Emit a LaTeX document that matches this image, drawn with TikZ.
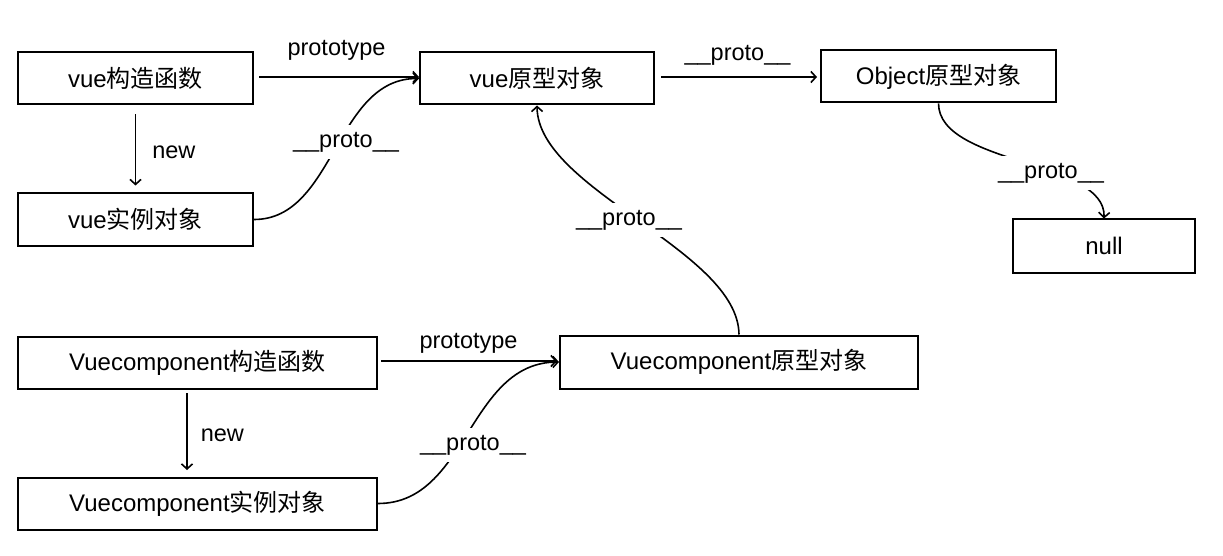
\documentclass[tikz,border=0pt]{standalone}
\usepackage{fontspec}
\setmainfont{Liberation Sans}
\newfontfamily\cjk{Noto Sans CJK SC}
\usetikzlibrary{arrows.meta}
\tikzset{
  box/.style={draw, line width=2pt, minimum height=52pt, inner sep=0pt, font=\fontsize{24}{27}\selectfont},
  arr/.style={line width=1.6pt, -{Straight Barb[length=5pt,width=11pt,line width=1.6pt]}},
  lbl/.style={fill=white, inner xsep=4pt, inner ysep=7pt, font=\fontsize{23.5}{26}\selectfont},
  tlbl/.style={inner sep=2pt, font=\fontsize{23.5}{26}\selectfont},
}
\begin{document}
\begin{tikzpicture}[x=1pt,y=-1pt]
\useasboundingbox (0,0) rectangle (1223,556);
% boxes
\node[box, minimum width=235pt] (vc) at (135.5,78.5) {vue{\cjk 构造函数}};
\node[box, minimum width=235pt] (vi) at (135.5,219.5) {vue{\cjk 实例对象}};
\node[box, minimum width=234pt] (vp) at (537,78.5) {vue{\cjk 原型对象}};
\node[box, minimum width=235pt] (op) at (938.5,76.5) {Object{\cjk 原型对象}};
\node[box, minimum width=182pt, minimum height=53pt] (nl) at (1104,246) {null};
\node[box, minimum width=359pt] (cc) at (197.5,362.5) {Vuecomponent{\cjk 构造函数}};
\node[box, minimum width=359pt] (ci) at (197.5,503.5) {Vuecomponent{\cjk 实例对象}};
\node[box, minimum width=358pt, minimum height=53pt] (cp) at (739,362) {Vuecomponent{\cjk 原型对象}};
% helper coordinates for the vertical "new" arrows
\coordinate (c1) at (187,388);
\coordinate (c2) at (187,477);
% straight arrows
\draw[arr, shorten <=5pt] (vc.east |- 0,77) coordinate (a0) -- node[tlbl, above=14pt] {prototype} (a0 -| vp.west);
\draw[arr, shorten <=9pt, shorten >=7pt] (vc.south) -- node[tlbl, right=14pt, yshift=-3pt] {new} (vi.north);
\draw[arr, shorten <=6pt, shorten >=3pt] (vp.east |- 0,77) coordinate (a1) -- node[tlbl, above=9pt] {\_\_proto\_\_} (a1 -| op.west);
\draw[arr, shorten <=3pt, shorten >=2pt] (cc.east |- 0,361) coordinate (a2) -- node[tlbl, above=5pt] {prototype} (a2 -| cp.west);
\draw[arr, shorten <=5pt, shorten >=7pt] (c1) -- node[tlbl, right=11pt, yshift=-3pt] {new} (c2);
% curved arrows
\draw[arr] (vi.east) .. controls (335,219.5) and (335,78) .. (vp.west);
\node[lbl] (l1) at (346,142) {\_\_proto\_\_};
\draw[arr] (op.south) .. controls (939,165) and (1106,160) .. (nl.north);
\node[lbl] (l2) at (1051,173) {\_\_proto\_\_};
\draw[arr] (cp.north) .. controls (738,250) and (538,190) .. (vp.south);
\node[lbl] (l3) at (629,220) {\_\_proto\_\_};
\draw[arr] (ci.east) .. controls (468,503.5) and (468,362) .. (cp.west);
\node[lbl] (l4) at (473,445) {\_\_proto\_\_};
\end{tikzpicture}
\end{document}
